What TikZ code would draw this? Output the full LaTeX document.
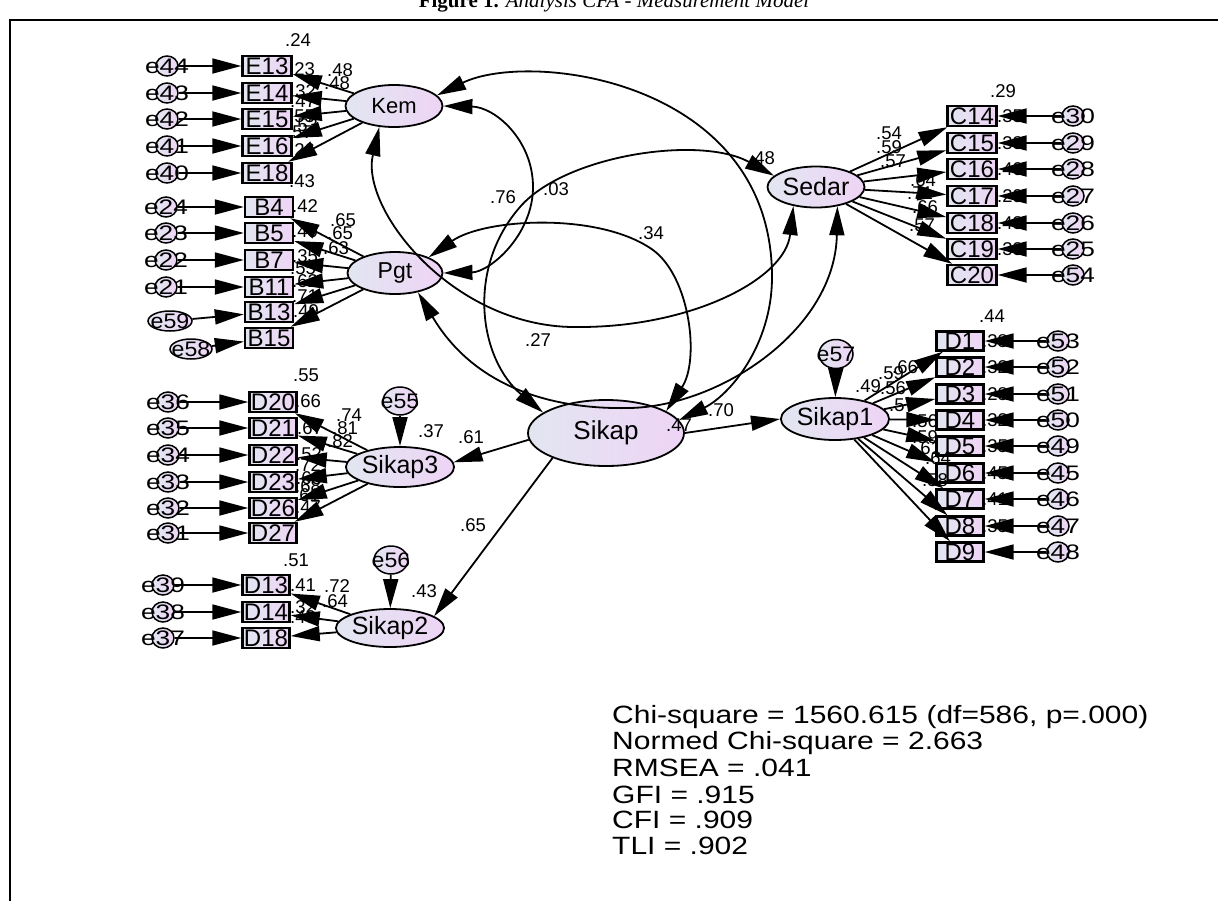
\documentclass[tikz,border=0pt]{standalone}
\usepackage{fontspec}
\usepackage{graphicx}
\setmainfont{Liberation Sans}
\newfontfamily\ttlfont{Liberation Serif}
\usetikzlibrary{arrows.meta,shapes.geometric}
\definecolor{shl}{RGB}{226,230,241}
\definecolor{shr}{RGB}{238,212,245}
\newcommand{\ew}[1]{\scalebox{1.25}[1]{#1}}
\newcommand{\fw}[1]{\scalebox{1.2}[1]{#1}}
\newcommand{\myfs}[1]{\fontsize{#1}{#1}\selectfont}
\begin{document}
\begin{tikzpicture}[x=1pt,y=-1pt,
  lat/.style={ellipse,draw,line width=1.8pt,left color=shl,right color=shr,inner sep=0pt},
  obs/.style={rectangle,draw,line width=2.4pt,left color=shl,right color=shr,inner sep=0pt,minimum width=48pt,minimum height=20pt,font=\myfs{24}},
  err/.style={ellipse,draw,line width=1.5pt,left color=shl,right color=shr,inner sep=0pt,minimum width=22pt,minimum height=20pt},
  elab/.style={inner sep=0pt,font=\myfs{21}},
  lab/.style={inner sep=0pt,font=\myfs{18.5}},
  ar/.style={line width=1.8pt,-{Triangle[length=29pt,width=15pt]}},
  dar/.style={line width=1.8pt,{Triangle[length=29pt,width=15pt]}-{Triangle[length=29pt,width=15pt]}},
  fit/.style={anchor=west,inner sep=0pt,font=\myfs{25}}]
\useasboundingbox (0,0) rectangle (1218,900);
% frame and title
\coordinate (ftr) at (1222,20);
\coordinate (ftl) at (10,20);
\coordinate (fbl) at (10,904);
\draw[line width=2.5pt] (ftr) -- (ftl) -- (fbl);
\node[anchor=base,inner sep=0pt,font=\ttlfont\myfs{21}] (title) at (614,7) {\textbf{Figure 1.} \textit{Analysis CFA - Measurement Model}};

% latent variables
\node[lat,minimum width=97pt,minimum height=42pt,font=\myfs{22}] (Kem) at (394,106) {Kem};
\node[lat,minimum width=95pt,minimum height=42pt,font=\myfs{23}] (Pgt) at (395,273) {Pgt};
\node[lat,minimum width=97pt,minimum height=41pt,font=\myfs{25}] (Sedar) at (816,187) {Sedar};
\node[lat,minimum width=156pt,minimum height=66pt,font=\myfs{26}] (Sikap) at (606,433) {Sikap};
\node[lat,minimum width=95pt,minimum height=42pt,font=\myfs{25}] (Sikap1) at (835,419) {Sikap1};
\node[lat,minimum width=95pt,minimum height=40pt,font=\myfs{25}] (Sikap3) at (400,467) {Sikap3};
\node[lat,minimum width=96pt,minimum height=38pt,font=\myfs{25}] (Sikap2) at (390,628) {Sikap2};

% residuals of second-order factors
\node[err,minimum width=34pt,minimum height=29pt,label={[elab]center:\scalebox{1.1}[1]{e57}}] (e57) at (836,354) {};
\node[err,minimum width=34pt,minimum height=28pt,label={[elab]center:\scalebox{1.1}[1]{e55}}] (e55) at (400,401) {};
\node[err,minimum width=34pt,minimum height=28pt,label={[elab]center:\scalebox{1.1}[1]{e56}}] (e56) at (391,560) {};

% indicators of Kem
\foreach \b/\e/\y in {E13/e44/66,E14/e43/93,E15/e42/119,E16/e41/146,E18/e40/173}{
  \node[obs,minimum width=49pt] (\b) at (267,\y) {\b};
  \node[err,label={[elab]center:\ew{\e}}] (\e) at (167,\y) {};
}
% indicators of Pgt
\foreach \b/\e/\y in {B4/e24/207,B5/e23/233,B7/e22/260,B11/e21/287}{
  \node[obs] (\b) at (269,\y) {\b};
  \node[err,label={[elab]center:\ew{\e}}] (\e) at (166,\y) {};
}
\node[obs] (B13) at (269,312) {B13};
\node[obs] (B15) at (269,338) {B15};
\node[err,minimum width=44pt,minimum height=20pt,label={[elab]center:\scalebox{1.1}[1]{e59}}] (e59) at (170,321) {};
\node[err,minimum width=42pt,minimum height=20pt,label={[elab]center:\scalebox{1.1}[1]{e58}}] (e58) at (191,349) {};
% indicators of Sedar
\foreach \b/\e/\y in {C14/e30/116,C15/e29/143,C16/e28/169,C17/e27/196,C18/e26/223,C19/e25/249,C20/e54/275}{
  \node[obs,minimum width=49pt] (\b) at (972,\y) {\b};
  \node[err,label={[elab]center:\ew{\e}}] (\e) at (1073,\y) {};
}
% indicators of Sikap1
\foreach \b/\e/\y in {D1/e53/341,D2/e52/367,D3/e51/394,D4/e50/420,D5/e49/446,D6/e45/473,D7/e46/499,D8/e47/526,D9/e48/552}{
  \node[obs,minimum width=47pt,minimum height=19pt] (\b) at (960,\y) {\b};
  \node[err,label={[elab]center:\ew{\e}}] (\e) at (1058,\y) {};
}
% indicators of Sikap3
\foreach \b/\e/\y in {D20/e36/402,D21/e35/428,D22/e34/455,D23/e33/482,D26/e32/508,D27/e31/533}{
  \node[obs,minimum width=47pt] (\b) at (273,\y) {\b};
  \node[err,label={[elab]center:\ew{\e}}] (\e) at (168,\y) {};
}
% indicators of Sikap2
\foreach \b/\e/\y in {D13/e39/585,D14/e38/612,D18/e37/638}{
  \node[obs,minimum width=47pt] (\b) at (266,\y) {\b};
  \node[err,label={[elab]center:\ew{\e}}] (\e) at (163,\y) {};
}

% estimate labels
\foreach \t/\x/\y [count=\i] in {.24/298/40,.23/302/69,.48/340/70,.48/337/83,.32/303/91,.47/303/101,.55/302/116,.53/305/125,.57/300/132,.26/302/150,.43/302/181}
  \node[lab] (lk\i) at (\x,\y) {\t};
\foreach \t/\x/\y [count=\i] in {.42/305/206,.65/343/220,.65/340/233,.40/305/231,.63/336/248,.35/305/256,.55/303/268,.62/305/281,.71/305/296,.49/306/311}
  \node[lab] (lp\i) at (\x,\y) {\t};
\foreach \t/\x/\y [count=\i] in {.29/1003/91,.54/889/133,.59/889/147,.57/893/161,.64/923/180,.71/920/193,.66/925/207,.57/922/225,.48/762/158,.35/1010/116,.38/1010/143,.40/1010/169,.29/1010/196,.43/1010/223,.33/1010/249}
  \node[lab] (ls\i) at (\x,\y) {\t};
\foreach \t/\x/\y [count=\i] in {.44/992/316,.66/905/367,.59/891/373,.49/868/386,.56/893/388,.57/902/405,.56/925/421,.59/925/437,.61/928/448,.64/938/458,.58/935/480,.38/995/341,.32/995/367,.28/995/394,.32/995/420,.35/995/446,.45/995/473,.41/995/499,.35/995/526}
  \node[lab] (la\i) at (\x,\y) {\t};
\foreach \t/\x/\y [count=\i] in {.55/306/375,.66/308/401,.74/349/415,.81/345/428,.82/340/441,.67/310/428,.52/309/454,.72/308/465,.63/309/478,.68/308/486,.61/307/495,.47/308/507,.37/431/431,.61/471/437}
  \node[lab] (lc\i) at (\x,\y) {\t};
\foreach \t/\x/\y [count=\i] in {.51/296/560,.41/303/585,.72/337/586,.64/335/601,.32/303/607,.40/303/617,.43/424/591,.65/473/525}
  \node[lab] (lb\i) at (\x,\y) {\t};
\foreach \t/\x/\y [count=\i] in {.76/503/197,.03/556/189,.34/651/233,.27/538/340,.47/679/425,.70/721/410}
  \node[lab] (lr\i) at (\x,\y) {\t};

% error arrows
\foreach \e/\b in {e44/E13,e43/E14,e42/E15,e41/E16,e40/E18,e24/B4,e23/B5,e22/B7,e21/B11,e59/B13,e58/B15,
  e30/C14,e29/C15,e28/C16,e27/C17,e26/C18,e25/C19,e54/C20,
  e53/D1,e52/D2,e51/D3,e50/D4,e49/D5,e45/D6,e46/D7,e47/D8,e48/D9,
  e36/D20,e35/D21,e34/D22,e33/D23,e32/D26,e31/D27,e39/D13,e38/D14,e37/D18,
  e57/Sikap1,e55/Sikap3,e56/Sikap2}
  \draw[ar] (\e) -- (\b);

% loadings
\foreach \b in {E13,E14,E15,E16,E18} \draw[ar] (Kem) -- (\b);
\foreach \b in {B4,B5,B7,B11,B13,B15} \draw[ar] (Pgt) -- (\b);
\foreach \b in {C14,C15,C16,C17,C18,C19,C20} \draw[ar] (Sedar) -- (\b);
\foreach \b in {D1,D2,D3,D4,D5,D6,D7,D8,D9} \draw[ar] (Sikap1) -- (\b);
\foreach \b in {D20,D21,D22,D23,D26,D27} \draw[ar] (Sikap3) -- (\b);
\foreach \b in {D13,D14,D18} \draw[ar] (Sikap2) -- (\b);

% structural paths
\draw[ar] (Sikap.east) -- (Sikap1.west);
\draw[ar] (Sikap.185) -- (Sikap3.5);
\draw[ar] (Sikap.205) -- (Sikap2.15);

% correlations
\draw[dar] (Kem.14) .. controls (530,50) and (772,80) .. (772,277) .. controls (772,345) and (730,395) .. (Sikap.10);
\draw[dar] (Kem.0) .. controls (495,107) and (533,140) .. (533,187) .. controls (533,235) and (490,272) .. (Pgt.0);
\draw[dar] (Kem.235) .. controls (360,210) and (455,330) .. (580,327) .. controls (690,327) and (785,280) .. (Sedar.220);
\draw[dar] (Sikap.162) .. controls (480,360) and (465,270) .. (520,207) .. controls (565,155) and (700,135) .. (Sedar.165);
\draw[dar] (Pgt.25) .. controls (485,218) and (600,212) .. (653,250) .. controls (690,277) and (700,360) .. (Sikap.20);
\draw[dar] (Pgt.320) .. controls (470,380) and (540,410) .. (630,408) .. controls (720,406) and (835,330) .. (Sedar.318);

% fit statistics
\node[fit] (fit1) at (612,717) {\fw{Chi-square = 1560.615 (df=586, p=.000)}};
\node[fit] (fit2) at (612,743) {\fw{Normed Chi-square = 2.663}};
\node[fit] (fit3) at (612,768) {\fw{RMSEA = .041}};
\node[fit] (fit4) at (612,795) {\fw{GFI = .915}};
\node[fit] (fit5) at (612,820) {\fw{CFI = .909}};
\node[fit] (fit6) at (612,846) {\fw{TLI = .902}};
\end{tikzpicture}
\end{document}
